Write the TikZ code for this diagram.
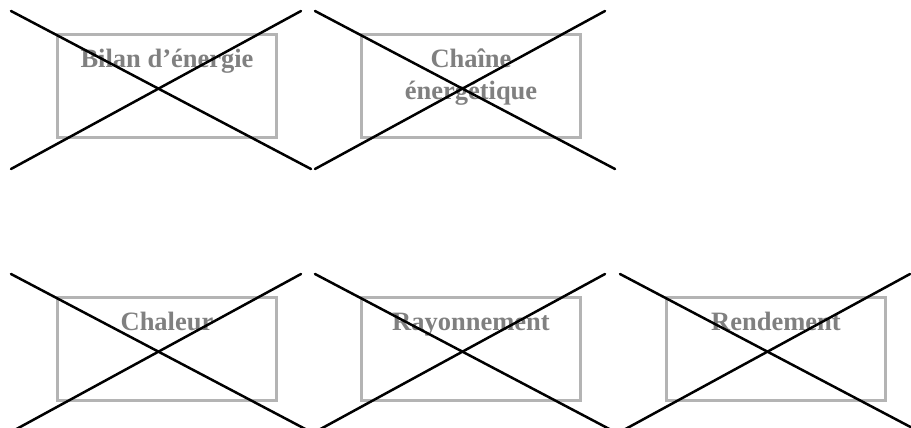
\documentclass[tikz,border=0pt]{standalone}
\usepackage{fontspec}
\setmainfont{Liberation Serif}
\usepackage{xcolor}
\usepackage{tikz}
\usetikzlibrary{positioning,calc}
\definecolor{BoxGray}{HTML}{B4B4B4}
\definecolor{TextGray}{HTML}{808080}

\begin{document}
\begin{tikzpicture}[x=1pt,y=1pt,
          bx/.style={draw=BoxGray, line width=3pt, minimum width=219pt,
            minimum height=103pt, inner sep=0pt},
          ttl/.style={anchor=base, align=center, text=TextGray, inner sep=0pt,
            font=\fontsize{26.5}{32}\selectfont\bfseries},
          xl/.style={black, line width=2.5pt, line cap=round}]
        \useasboundingbox (0,0) rectangle (911,-428);
        \node[bx] (b1) at (167,-86) {};
        \node[bx] (b2) at (471,-86) {};
        \node[bx] (b3) at (167,-349) {};
        \node[bx] (b4) at (471,-349) {};
        \node[bx] (b5) at (776,-349) {};
        \node[ttl] (t1) at ($(b1.north)+(0,-34.5)$) {Bilan d’énergie};
        \node[ttl] (t2) at ($(b2.north)+(0,-66.5)$) {Chaîne\\énergétique};
        \node[ttl] (t3) at ($(b3.north)+(0,-34.5)$) {Chaleur};
        \node[ttl] (t4) at ($(b4.north)+(0,-34.5)$) {Rayonnement};
        \node[ttl] (t5) at ($(b5.north)+(0,-34.5)$) {Rendement};
        % crosses over the boxes
        \draw[xl] ($(b1.north west)+(-45,22)$) -- ($(b1.south east)+(33,-30)$);
        \draw[xl] ($(b1.south west)+(-45,-30)$) -- ($(b1.north east)+(23,22)$);
        \draw[xl] ($(b2.north west)+(-45,22)$) -- ($(b2.south east)+(33,-30)$);
        \draw[xl] ($(b2.south west)+(-45,-30)$) -- ($(b2.north east)+(23,22)$);
        \draw[xl] ($(b3.north west)+(-45,22)$) -- ($(b3.south east)+(33,-30)$);
        \draw[xl] ($(b3.south west)+(-45,-30)$) -- ($(b3.north east)+(23,22)$);
        \draw[xl] ($(b4.north west)+(-45,22)$) -- ($(b4.south east)+(33,-30)$);
        \draw[xl] ($(b4.south west)+(-45,-30)$) -- ($(b4.north east)+(23,22)$);
        \draw[xl] ($(b5.north west)+(-45,22)$) -- ($(b5.south east)+(33,-30)$);
        \draw[xl] ($(b5.south west)+(-45,-30)$) -- ($(b5.north east)+(23,22)$);
      \end{tikzpicture}
\end{document}
